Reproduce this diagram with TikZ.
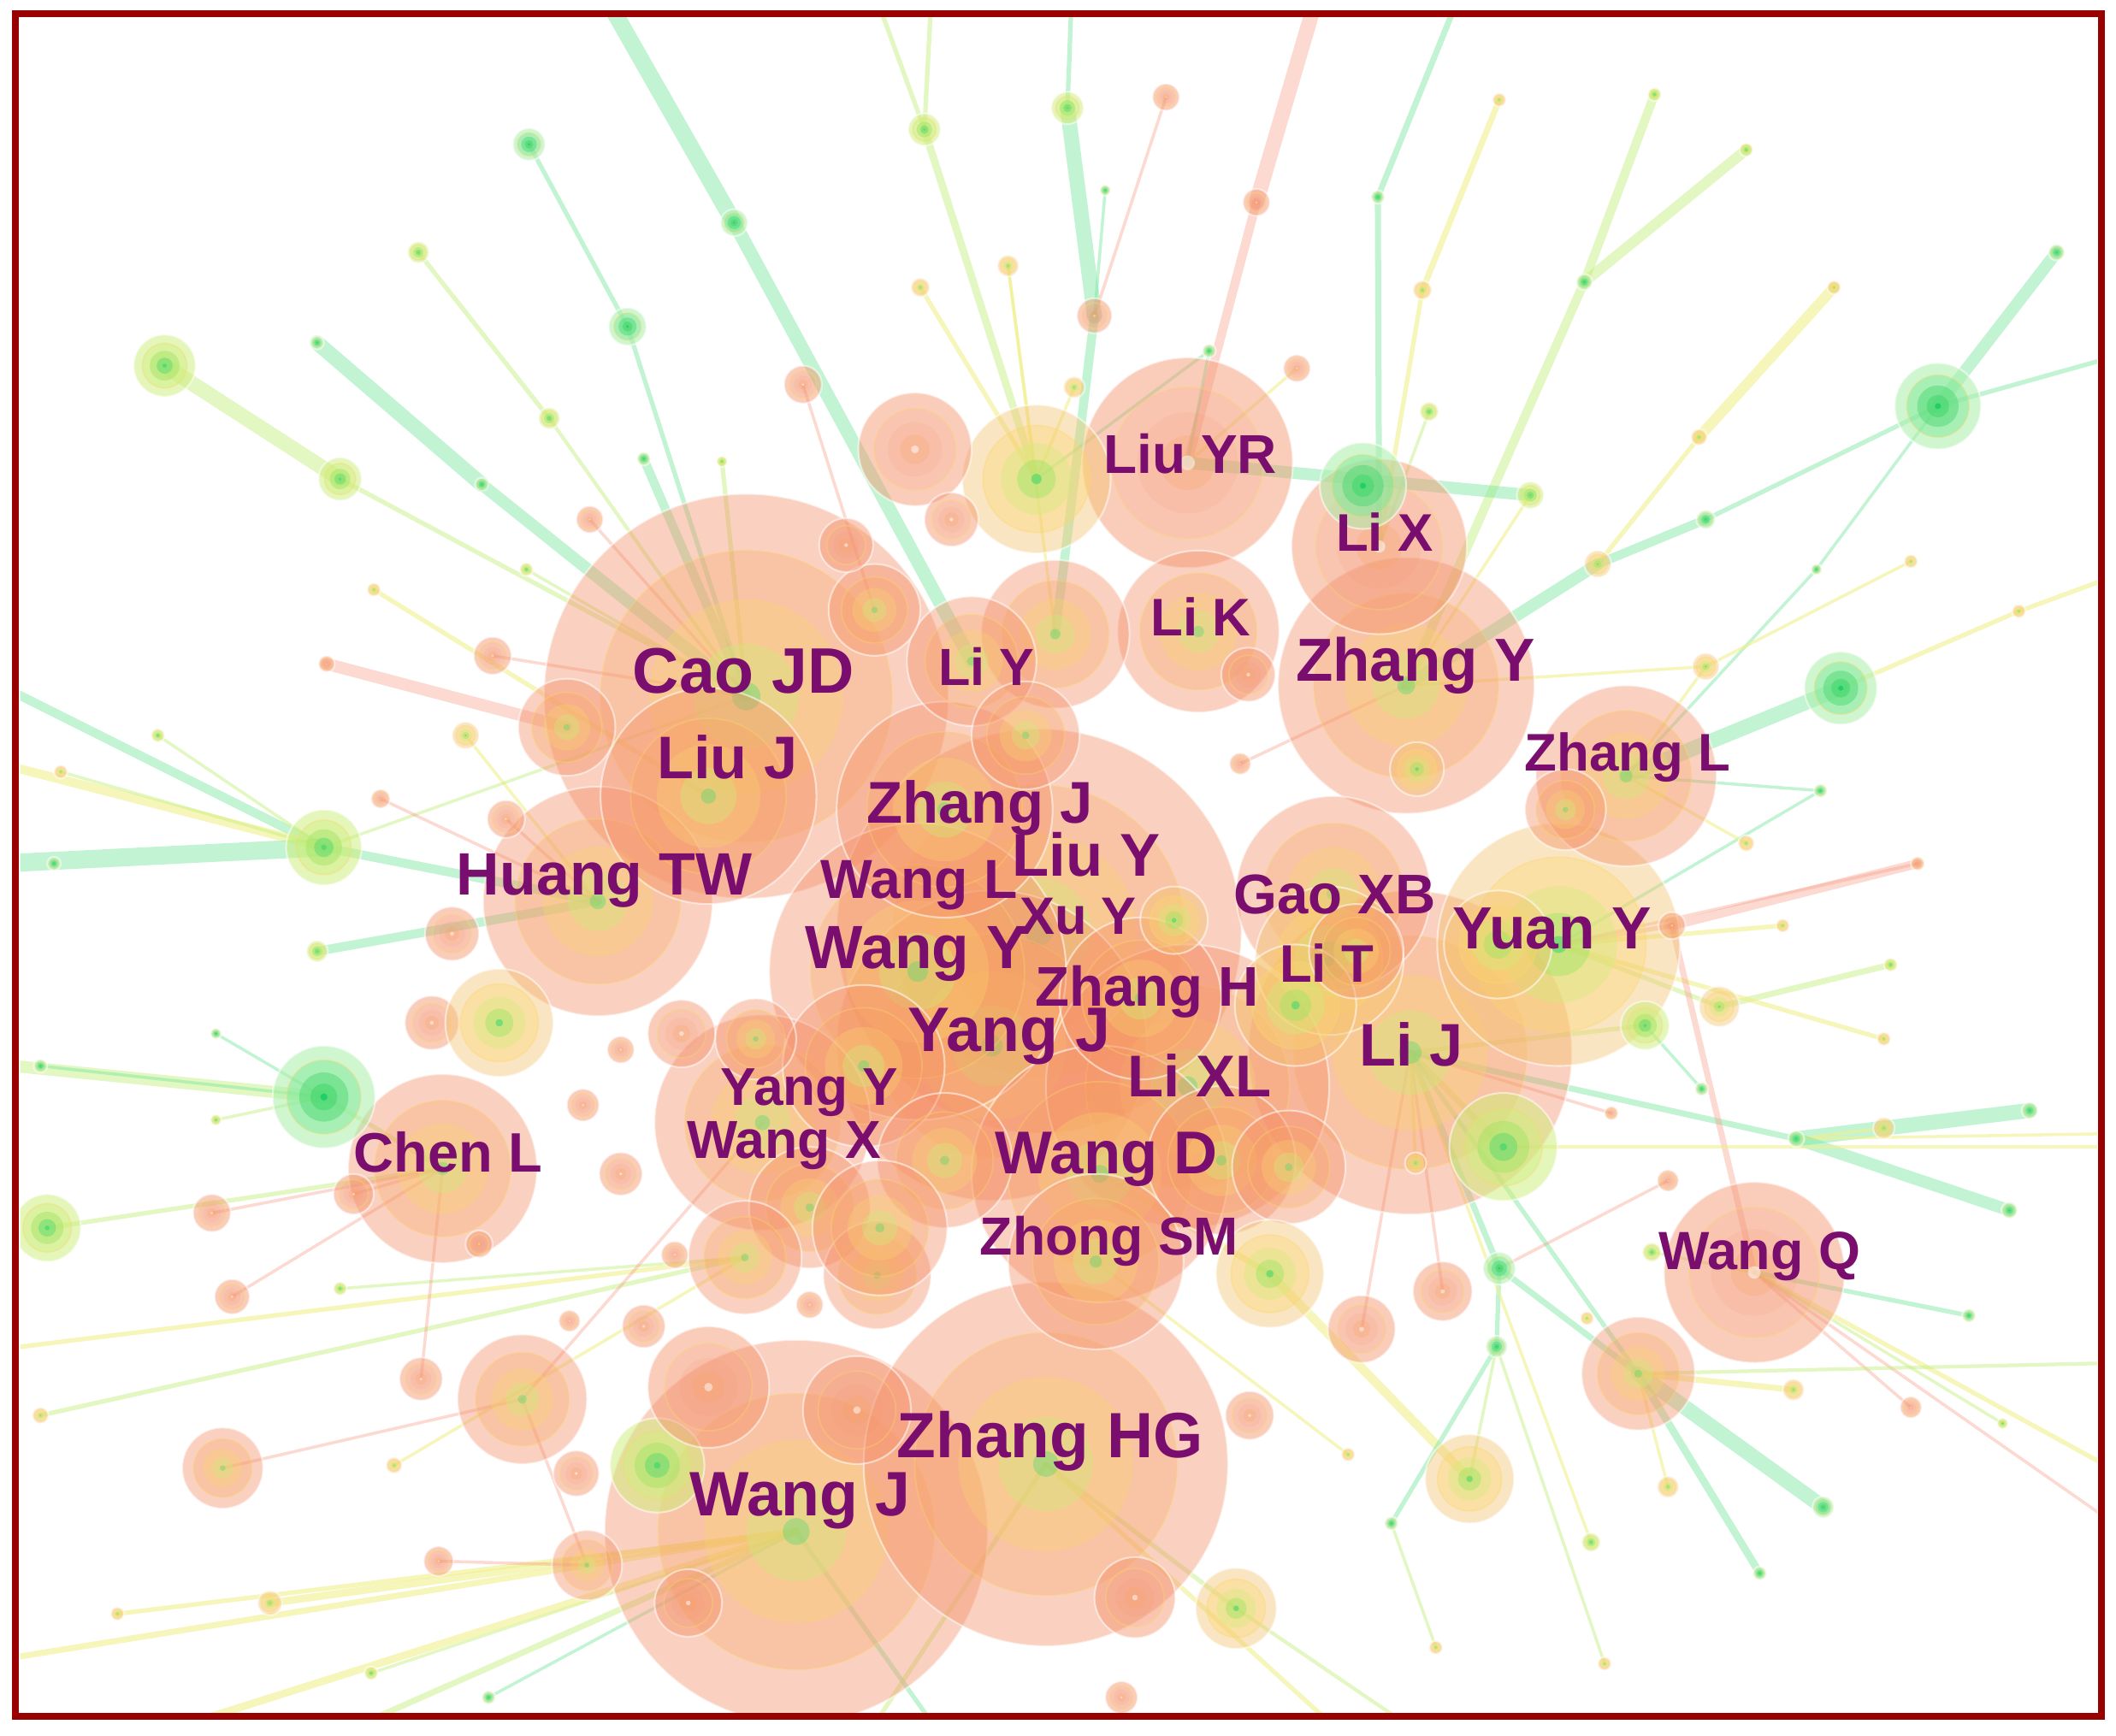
\documentclass[tikz,border=0pt]{standalone}
\usepackage{fontspec}
\setmainfont{Liberation Sans}

\definecolor{framered}{RGB}{153,0,0}
\definecolor{authorpurple}{RGB}{122,14,110}
\definecolor{salmonA}{RGB}{245,145,105}
\definecolor{peachA}{RGB}{248,160,90}
\definecolor{yellowA}{RGB}{250,215,110}
\definecolor{goldA}{RGB}{245,195,110}
\definecolor{limeA}{RGB}{205,238,120}
\definecolor{limeB}{RGB}{160,228,100}
\definecolor{greenA}{RGB}{70,215,110}
\definecolor{greenB}{RGB}{20,205,100}
\definecolor{mintA}{RGB}{170,240,170}
\definecolor{mintB}{RGB}{120,232,150}
\definecolor{edgegrn}{RGB}{120,232,160}
\definecolor{edgelim}{RGB}{195,238,120}
\definecolor{edgeylw}{RGB}{240,240,140}
\definecolor{edgerose}{RGB}{248,160,140}

\tikzset{
  lbl/.style={text=authorpurple, font=\fontsize{#1}{#1}\selectfont\bfseries, inner sep=0pt},
  grnline/.style={draw=edgegrn, draw opacity=.45, line cap=round},
  limline/.style={draw=edgelim, draw opacity=.45, line cap=round},
  ylwline/.style={draw=edgeylw, draw opacity=.6, line cap=round},
  roseline/.style={draw=edgerose, draw opacity=.4, line cap=round},
  rimline/.style={draw=white, draw opacity=.55, line width=.6pt},
  ringline/.style={draw=yellowA, draw opacity=.35, line width=.5pt},
  org1/.style={fill=salmonA, fill opacity=.42},
  org2/.style={fill=peachA, fill opacity=.26},
  org3/.style={fill=yellowA, fill opacity=.3},
  org4/.style={fill=limeA, fill opacity=.35},
  org5/.style={fill=greenA, fill opacity=.35},
  slm1/.style={fill=salmonA, fill opacity=.45},
  slm2/.style={fill=salmonA, fill opacity=.12},
  slm3/.style={fill=salmonA, fill opacity=.12},
  slm4/.style={fill=peachA, fill opacity=.2},
  slm5/.style={fill=white, fill opacity=.5},
  ylw1/.style={fill=goldA, fill opacity=.42},
  ylw2/.style={fill=yellowA, fill opacity=.35},
  ylw3/.style={fill=limeA, fill opacity=.35},
  ylw4/.style={fill=limeB, fill opacity=.45},
  ylw5/.style={fill=greenA, fill opacity=.6},
  lim1/.style={fill=limeA, fill opacity=.5},
  lim2/.style={fill=limeA, fill opacity=.4},
  lim3/.style={fill=limeB, fill opacity=.45},
  lim4/.style={fill=greenA, fill opacity=.4},
  lim5/.style={fill=greenA, fill opacity=.7},
  grn1/.style={fill=mintA, fill opacity=.55},
  grn2/.style={fill=mintB, fill opacity=.45},
  grn3/.style={fill=greenA, fill opacity=.45},
  grn4/.style={fill=greenA, fill opacity=.6},
  grn5/.style={fill=greenB, fill opacity=.8},
}

% name/x/y/radius/colour scheme
\newcommand\authornodes{%
  wangj/590/1135/142/org, zhanghg/775/1085/135/org, caojd/553/516/150/org,
  liuy/770/690/150/org, lij/1045/780/120/org, yangj/735/775/115/org,
  wangy/680/720/110/org, lixl/880/805/105/org, zhangy/1042/508/95/org,
  wangd/815/870/95/org, yuany/1155/700/90/ylw, huangtw/443/668/85/org,
  liuj/525/590/80/org, yangy/565/832/80/org, liuyr/880/343/78/slm,
  gaoxb/988/662/72/org, chenl/328/866/70/org, zhongsm/812/935/65/org,
  zhangl/1205/575/67/org, wangq/1300/943/67/slm, lix/1022/405/65/slm,
  lik/888/468/60/org, zhangh/845/740/60/org, zhangj/700/600/80/org,
  liy/782/470/55/org, lit/985/712/55/ylw, n01/768/355/55/ylw,
  n02/678/333/42/slm, n03/1010/360/32/grn, c01/720/490/48/org,
  c02/648/452/34/org, c03/627/404/20/slm, c04/640/790/60/org,
  c05/700/860/50/org, c06/905/860/55/org, c07/955/865/42/org,
  c08/870/682/25/ylw, c09/960/745/45/ylw, c10/1005/705/35/org,
  c11/760/545/40/org, c12/600/895/45/org, c13/650/945/40/org,
  c14/560/770/30/org, c15/1050/570/20/ylw, c16/1110/700/40/ylw,
  c17/925/500/20/slm, c18/705/385/20/slm, c19/1160/600/30/org,
  p01/392/107/12/grn, p02/544/165/10/grn, p03/465/242/14/grn,
  p04/310/187/8/lim, p05/407/310/8/lim, p06/122/271/23/lim,
  p07/252/355/16/lim, p08/235/254/5/grn, p09/357/359/5/grn,
  p10/477/340/5/grn, p11/535/342/4/lim, p12/685/96/12/lim,
  p13/682/213/7/ylw, p14/747/197/8/ylw, p15/595/285/14/slm,
  p16/437/385/10/slm, p17/390/422/5/lim, p18/277/437/5/ylw,
  p19/242/492/6/slm, p20/365/486/14/slm, p21/345/545/10/ylw,
  p22/420/539/36/org, p23/240/628/28/lim, p24/45/572/5/ylw,
  p25/117/545/5/lim, p26/282/592/7/slm, p27/375/607/14/slm,
  p28/40/640/5/grn, p29/791/80/12/lim, p30/864/72/10/slm,
  p31/931/150/10/slm, p32/811/234/13/slm, p33/819/141/4/grn,
  p34/896/260/5/grn, p35/961/273/10/slm, p36/796/287/8/ylw,
  p37/1021/146/5/grn, p38/1054/215/7/ylw, p39/1059/305/7/lim,
  p40/1174/209/6/grn, p41/1111/74/5/ylw, p42/1226/70/5/lim,
  p43/1294/111/5/lim, p44/1359/213/5/ylw, p45/1259/324/6/ylw,
  p46/1134/367/10/lim, p47/1524/187/6/grn, p48/1436/301/32/grn,
  p49/1264/385/7/grn, p50/1184/418/10/ylw, p51/1346/422/4/grn,
  p52/1264/494/10/ylw, p53/1416/416/5/ylw, p54/1364/510/27/grn,
  p55/1496/453/5/ylw, p56/1349/586/5/grn, p57/1294/625/6/ylw,
  p58/1421/640/5/slm, p59/919/566/8/slm, p60/235/705/8/lim,
  p61/335/692/20/slm, p62/320/758/20/slm, p63/370/758/40/ylw,
  p64/160/766/4/grn, p65/240/813/38/grn, p66/30/790/5/grn,
  p67/160/830/4/lim, p68/262/885/15/slm, p69/355/922/10/slm,
  p70/35/910/25/lim, p71/157/899/14/slm, p72/172/961/13/slm,
  p73/252/955/5/lim, p74/30/1049/6/ylw, p75/165/1088/30/org,
  p76/292/1086/6/ylw, p77/312/1022/16/slm, p78/387/1037/48/org,
  p79/427/1092/17/slm, p80/422/979/8/slm, p81/477/983/16/slm,
  p82/325/1157/11/slm, p83/435/1160/26/org, p84/200/1188/9/ylw,
  p85/87/1196/5/ylw, p86/275/1240/5/lim, p87/362/1258/5/grn,
  p88/460/778/10/slm, p89/432/819/12/slm, p90/460/870/16/slm,
  p91/505/766/25/slm, p92/552/932/42/org, p93/652/910/50/org,
  p94/500/930/10/slm, p95/600/967/10/slm, p96/510/1188/25/slm,
  p97/487/1086/35/lim, p98/525/1028/45/slm, p99/635/1045/40/slm,
  q01/1239/686/10/slm, q02/1321/686/5/ylw, q03/1401/715/5/lim,
  q04/1274/746/15/ylw, q05/1396/770/5/ylw, q06/1219/760/18/lim,
  q07/1261/807/5/grn, q08/1194/825/5/slm, q09/1504/823/6/grn,
  q10/1331/844/6/grn, q11/1396/836/8/ylw, q12/1489/897/6/grn,
  q13/1114/850/40/lim, q14/1049/862/8/ylw, q15/1236/875/8/slm,
  q16/1224/928/7/lim, q17/1111/940/12/grn, q18/1069/957/22/slm,
  q19/941/944/40/ylw, q20/1009/985/25/slm, q21/1109/998/8/grn,
  q22/1176/977/5/ylw, q23/1459/975/5/grn, q24/1214/1018/42/org,
  q25/1329/1030/8/ylw, q26/1416/1043/8/slm, q27/1484/1055/4/lim,
  q28/1351/1117/8/grn, q29/1304/1166/5/grn, q30/1236/1102/8/ylw,
  q31/1179/1143/7/lim, q32/1089/1096/33/ylw, q33/1031/1129/5/grn,
  q34/999/1078/5/ylw, q35/926/1049/18/slm, q36/1064/1221/5/ylw,
  q37/1189/1233/5/ylw, q38/916/1192/30/ylw, q39/841/1184/30/slm,
  q40/831/1258/12/slm}

\begin{document}
\begin{tikzpicture}[x=0.015778cm, y=-0.015778cm]
  \useasboundingbox (0,0) rectangle (1568,1286);
  \fill[white] (0,0) rectangle (1568,1286);

  \begin{scope}
    \clip (15,13) rectangle (1554,1269);

    \foreach \n/\x/\y/\r/\s in \authornodes {\coordinate (\n) at (\x,\y);}
    % loose ends of the links, outside the frame
    \foreach \n/\x/\y in {t1/450/0, t2/690/0, t3/650/0, t4/0/508, t5/0/566, t6/0/640,
        t7/794/0, t8/975/0, t9/1080/0, t10/1575/262, t11/1575/424, t13/1575/840,
        t14/1575/1094, t15/1575/1135, t16/700/1290, t17/640/1290, t18/1000/1290,
        t19/0/1230, t20/100/1290, t21/240/1290, t22/0/789, t23/0/1000, t24/1575/1010,
        t25/1060/1290, t26/1575/850}
      \coordinate (\n) at (\x,\y);

    % links
    \foreach \a/\b/\w/\c in {
        t1/p02/5.5/grnline, p02/c01/4.5/grnline, p01/p03/1.5/grnline, p03/caojd/1.5/grnline,
        p04/p05/1.5/limline, p05/caojd/1.2/limline, p06/p07/5/limline, p07/caojd/1.5/limline,
        p08/p09/5/grnline, p09/caojd/4/grnline, p10/caojd/3/grnline, p11/caojd/1.5/limline,
        t2/p12/1.5/limline, t3/p12/1.5/limline, p12/n01/2.5/limline, p13/n01/1.5/ylwline,
        p14/n01/1/ylwline, p14/liy/1/ylwline, p15/c02/1/roseline, p16/caojd/1/roseline,
        p17/caojd/1/limline, p18/liuj/1.5/ylwline, p19/p22/4/roseline, p20/caojd/1/roseline,
        p21/huangtw/1/ylwline, t4/p23/3/grnline, t5/p23/3/ylwline, p24/p23/1/limline,
        p25/p23/1/limline, t6/p23/6/grnline, p23/huangtw/3/grnline, p23/caojd/1/limline,
        p26/huangtw/1/roseline, p27/huangtw/1/roseline,
        t7/p29/1.5/grnline, p29/p32/5/grnline, p32/liy/3/grnline, p30/p32/1/roseline,
        t8/p31/5/roseline, p31/liuyr/3/roseline, p33/p32/1/grnline, p34/liuyr/1/grnline,
        p34/n01/1/grnline, p35/liuyr/1/ylwline, p36/n01/1/ylwline, t9/p37/2/grnline,
        p37/lix/2/grnline, p41/p38/2/ylwline, p38/lix/1.5/ylwline, p39/lix/1/limline,
        p42/p40/3/limline, p43/p40/3.5/limline, p40/zhangy/3/limline, p44/p45/3.5/ylwline,
        p45/p50/1.5/ylwline, liuyr/p46/4/grnline, p46/zhangy/1/ylwline, p47/p48/4/grnline,
        p48/t10/1.5/grnline, p48/p49/1.5/grnline, p49/p50/3/grnline, p50/zhangy/4/grnline,
        p48/p51/1/grnline, p51/zhangl/1/grnline, p53/p52/1/ylwline, p52/zhangy/1/ylwline,
        p52/zhangl/1/ylwline, t11/p55/1.5/ylwline, p55/p54/1.5/ylwline, p54/zhangl/5/grnline,
        p56/zhangl/1/grnline, p56/yuany/1/grnline, p57/zhangl/1/ylwline, p58/yuany/1/roseline,
        p59/zhangy/1/roseline,
        q01/p58/3/roseline, q01/yuany/1.5/roseline, q02/yuany/1.5/ylwline, q03/q04/2/limline,
        q04/yuany/1.5/limline, q05/yuany/1.5/ylwline, q06/lij/1.5/limline, q06/q07/1/grnline,
        q09/q10/5/grnline, q10/lij/2/grnline, q11/q10/1/ylwline, t13/q10/1/ylwline,
        q12/q10/4/grnline, q13/lij/2/limline, q01/wangq/2/roseline, q16/wangq/1/limline,
        q17/lij/2/grnline, q17/q21/1.5/grnline, q17/q24/2/grnline, q18/lij/1/roseline,
        q19/wangd/2/ylwline, q20/lij/1/roseline, q21/q32/1/limline, q24/q28/5/grnline,
        q24/q29/2.5/grnline, q24/q30/1/ylwline, q24/lij/1.5/grnline, wangq/q23/1.5/grnline,
        wangq/q26/1/roseline, wangq/t14/1.5/ylwline, wangq/t15/1/roseline, q27/wangq/1/limline,
        q25/q24/2/ylwline, q31/lij/1/ylwline, q32/q19/3/ylwline, q33/q21/1.5/grnline,
        q33/q36/1/limline, q34/zhongsm/1/ylwline, q37/q21/1/limline, q15/q17/1/roseline,
        q08/lij/1/roseline, q14/lij/1/ylwline, t24/q24/1.2/limline, t26/q13/1/ylwline,
        q38/zhanghg/1.5/limline, t16/wangj/1.5/grnline, t17/zhanghg/1.5/limline,
        t18/zhanghg/1.5/ylwline, t25/q38/1.2/limline, p87/wangj/1/grnline, p86/wangj/1/limline,
        p84/wangj/2.5/ylwline, p85/wangj/1.5/ylwline, t19/wangj/2/ylwline, t20/wangj/2.5/ylwline,
        t21/wangj/2/limline, p74/p92/1.5/limline, p70/chenl/1.5/limline, t22/p65/4/limline,
        p66/p65/1/grnline, p65/chenl/1.5/limline, p64/p65/1/grnline, p67/p65/1/limline,
        p60/huangtw/3/grnline, p73/p92/1/limline, t23/p92/1.5/ylwline, p75/p78/1/roseline,
        p76/p92/1/ylwline, p77/chenl/1/roseline, p78/yangy/1/roseline, p82/p83/1/roseline,
        p83/p78/1/roseline, p71/chenl/1/roseline, p72/chenl/1/roseline, p68/chenl/1/roseline}
      \draw[\c, line width=\w*1pt] (\a) -- (\b);

    % authors: rings of the years, old (green) inside, new (red) outside
    \foreach \n/\x/\y/\r/\s in \authornodes {
      \fill[\s1] (\n) circle[radius=\r];
      \fill[\s2] (\n) circle[radius=\r*0.72];
      \fill[\s3] (\n) circle[radius=\r*0.48];
      \fill[\s4] (\n) circle[radius=\r*0.26];
      \fill[\s5] (\n) circle[radius=\r*0.07];
      \draw[ringline] (\n) circle[radius=\r*0.72];
      \draw[rimline] (\n) circle[radius=\r];
    }
  \end{scope}

  % names
  \node[lbl=18.2] (l-liuyr) at (882,336) {Liu YR};
  \node[lbl=17.6] (l-lix) at (1026,394) {Li X};
  \node[lbl=17.6] (l-lik) at (890,457) {Li K};
  \node[lbl=20.2] (l-zhangy) at (1049,493) {Zhang Y};
  \node[lbl=17.4] (l-liy) at (731,494) {Li Y};
  \node[lbl=21.4] (l-caojd) at (551,497) {Cao JD};
  \node[lbl=20] (l-liuj) at (539,561) {Liu J};
  \node[lbl=17.6] (l-zhangl) at (1206,561) {Zhang L};
  \node[lbl=19.6] (l-zhangj) at (726,599) {Zhang J};
  \node[lbl=19.9] (l-huangtw) at (448,653) {Huang TW};
  \node[lbl=18.3] (l-wangl) at (681,656) {Wang L};
  \node[lbl=20.1] (l-liuy) at (805,633) {Liu Y};
  \node[lbl=17.5] (l-xuy) at (799,679) {Xu Y};
  \node[lbl=18.6] (l-gaoxb) at (989,663) {Gao XB};
  \node[lbl=19.8] (l-yuany) at (1150,688) {Yuan Y};
  \node[lbl=20.3] (l-wangy) at (679,707) {Wang Y};
  \node[lbl=17.6] (l-lit) at (983,714) {Li T};
  \node[lbl=18.6] (l-zhangh) at (850,735) {Zhang H};
  \node[lbl=20.9] (l-yangj) at (748,768) {Yang J};
  \node[lbl=20] (l-lij) at (1046,774) {Li J};
  \node[lbl=19.6] (l-lixl) at (889,797) {Li XL};
  \node[lbl=17.7] (l-yangy) at (600,810) {Yang Y};
  \node[lbl=17.8] (l-wangx) at (581,849) {Wang X};
  \node[lbl=18.5] (l-chenl) at (332,854) {Chen L};
  \node[lbl=20.1] (l-wangd) at (820,859) {Wang D};
  \node[lbl=17.8] (l-zhongsm) at (822,920) {Zhong SM};
  \node[lbl=17.9] (l-wangq) at (1304,931) {Wang Q};
  \node[lbl=21.3] (l-zhanghg) at (778,1068) {Zhang HG};
  \node[lbl=20.9] (l-wangj) at (593,1112) {Wang J};

  \draw[framered, line width=0.08cm] (11.4,10.1) rectangle (1557.2,1271.7);
\end{tikzpicture}
\end{document}
